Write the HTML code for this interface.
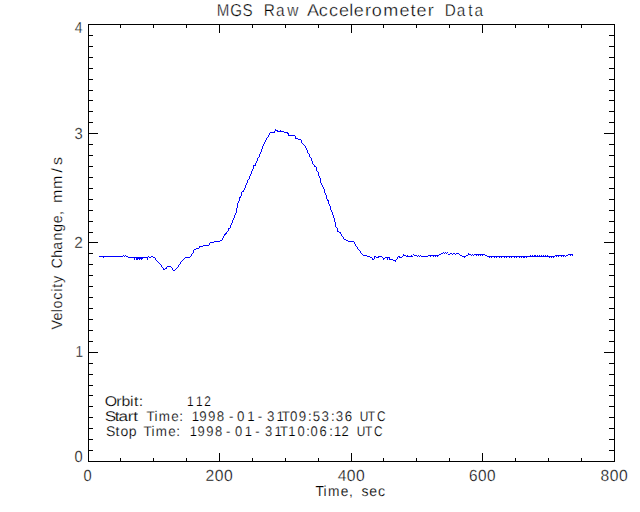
<!DOCTYPE html>
<html><head><meta charset="utf-8"><title>MGS Raw Accelerometer Data</title>
<style>html,body{margin:0;padding:0;background:#fff;width:640px;height:512px;overflow:hidden}svg{display:block}</style>
</head><body>
<svg width="640" height="512" viewBox="0 0 640 512" shape-rendering="crispEdges">
<rect width="640" height="512" fill="#fff"/>
<path d="M88 24h527v1h-527zM88 461h527v1h-527zM88 24h1v438h-1zM614 24h1v438h-1zM120 458h1v3h-1zM120 25h1v3h-1zM153 458h1v3h-1zM153 25h1v3h-1zM186 458h1v3h-1zM186 25h1v3h-1zM219 453h1v8h-1zM219 25h1v8h-1zM252 458h1v3h-1zM252 25h1v3h-1zM285 458h1v3h-1zM285 25h1v3h-1zM318 458h1v3h-1zM318 25h1v3h-1zM351 453h1v8h-1zM351 25h1v8h-1zM383 458h1v3h-1zM383 25h1v3h-1zM416 458h1v3h-1zM416 25h1v3h-1zM449 458h1v3h-1zM449 25h1v3h-1zM482 453h1v8h-1zM482 25h1v8h-1zM515 458h1v3h-1zM515 25h1v3h-1zM548 458h1v3h-1zM548 25h1v3h-1zM581 458h1v3h-1zM581 25h1v3h-1zM89 450h4v1h-4zM609 450h5v1h-5zM89 439h4v1h-4zM609 439h5v1h-5zM89 428h4v1h-4zM609 428h5v1h-5zM89 417h4v1h-4zM609 417h5v1h-5zM89 406h4v1h-4zM609 406h5v1h-5zM89 395h4v1h-4zM609 395h5v1h-5zM89 385h4v1h-4zM609 385h5v1h-5zM89 374h4v1h-4zM609 374h5v1h-5zM89 363h4v1h-4zM609 363h5v1h-5zM89 352h9v1h-9zM604 352h10v1h-10zM89 341h4v1h-4zM609 341h5v1h-5zM89 330h4v1h-4zM609 330h5v1h-5zM89 319h4v1h-4zM609 319h5v1h-5zM89 308h4v1h-4zM609 308h5v1h-5zM89 297h4v1h-4zM609 297h5v1h-5zM89 286h4v1h-4zM609 286h5v1h-5zM89 275h4v1h-4zM609 275h5v1h-5zM89 264h4v1h-4zM609 264h5v1h-5zM89 253h4v1h-4zM609 253h5v1h-5zM89 242h9v1h-9zM604 242h10v1h-10zM89 232h4v1h-4zM609 232h5v1h-5zM89 221h4v1h-4zM609 221h5v1h-5zM89 210h4v1h-4zM609 210h5v1h-5zM89 199h4v1h-4zM609 199h5v1h-5zM89 188h4v1h-4zM609 188h5v1h-5zM89 177h4v1h-4zM609 177h5v1h-5zM89 166h4v1h-4zM609 166h5v1h-5zM89 155h4v1h-4zM609 155h5v1h-5zM89 144h4v1h-4zM609 144h5v1h-5zM89 133h9v1h-9zM604 133h10v1h-10zM89 122h4v1h-4zM609 122h5v1h-5zM89 111h4v1h-4zM609 111h5v1h-5zM89 100h4v1h-4zM609 100h5v1h-5zM89 90h4v1h-4zM609 90h5v1h-5zM89 79h4v1h-4zM609 79h5v1h-5zM89 68h4v1h-4zM609 68h5v1h-5zM89 57h4v1h-4zM609 57h5v1h-5zM89 46h4v1h-4zM609 46h5v1h-5zM89 35h4v1h-4zM609 35h5v1h-5z" fill="#000"/>
<path d="M99 256h4v1h-4zM103 256h1v2h-1zM104 256h19v1h-19zM123 255h1v1h-1zM124 256h1v1h-1zM125 255h1v1h-1zM126 256h2v1h-2zM128 257h6v1h-6zM134 257h1v3h-1zM135 257h1v1h-1zM136 257h2v3h-2zM138 257h1v2h-1zM139 257h1v3h-1zM140 257h1v2h-1zM141 257h1v3h-1zM142 257h1v2h-1zM143 257h4v1h-4zM147 257h1v3h-1zM148 256h1v1h-1zM149 257h2v1h-2zM151 256h2v1h-2zM153 257h2v1h-2zM155 258h1v2h-1zM156 260h1v1h-1zM157 261h1v1h-1zM158 262h1v1h-1zM159 263h1v1h-1zM160 264h1v1h-1zM161 265h1v2h-1zM162 267h1v1h-1zM163 268h1v2h-1zM164 269h1v1h-1zM165 268h1v1h-1zM166 267h1v2h-1zM167 266h4v1h-4zM171 267h1v1h-1zM172 268h1v2h-1zM173 270h2v1h-2zM175 269h1v1h-1zM176 268h1v1h-1zM177 267h1v1h-1zM178 265h1v2h-1zM179 264h1v1h-1zM180 262h1v2h-1zM181 261h1v1h-1zM182 260h1v1h-1zM183 259h1v1h-1zM184 258h1v1h-1zM185 257h5v1h-5zM190 256h1v1h-1zM191 254h1v2h-1zM192 253h1v1h-1zM193 250h1v3h-1zM194 249h2v1h-2zM196 248h3v1h-3zM199 246h1v2h-1zM200 246h3v1h-3zM203 245h6v1h-6zM209 243h1v2h-1zM210 242h4v1h-4zM214 241h6v1h-6zM220 240h2v1h-2zM222 238h1v2h-1zM223 236h1v2h-1zM224 234h1v2h-1zM225 233h1v2h-1zM226 232h1v2h-1zM227 231h1v1h-1zM228 228h1v3h-1zM229 228h1v1h-1zM230 225h1v3h-1zM231 223h1v2h-1zM232 220h1v3h-1zM233 218h1v2h-1zM234 215h1v3h-1zM235 213h1v2h-1zM236 208h1v5h-1zM237 203h1v5h-1zM238 201h1v2h-1zM239 197h1v4h-1zM240 196h1v2h-1zM241 192h1v4h-1zM242 191h1v1h-1zM243 190h1v2h-1zM244 188h1v2h-1zM245 185h1v3h-1zM246 183h1v2h-1zM247 180h1v3h-1zM248 179h1v1h-1zM249 176h1v3h-1zM250 174h1v2h-1zM251 171h1v3h-1zM252 169h1v2h-1zM253 165h1v4h-1zM254 165h1v1h-1zM255 163h1v3h-1zM256 161h1v2h-1zM257 158h1v3h-1zM258 157h1v1h-1zM259 154h1v3h-1zM260 152h1v2h-1zM261 149h1v3h-1zM262 146h1v3h-1zM263 144h1v2h-1zM264 142h1v2h-1zM265 140h1v2h-1zM266 138h1v2h-1zM267 137h1v1h-1zM268 135h1v2h-1zM269 133h1v2h-1zM270 132h4v1h-4zM274 131h1v2h-1zM275 129h1v2h-1zM276 130h1v1h-1zM277 130h1v2h-1zM278 131h2v1h-2zM280 130h1v2h-1zM281 131h3v1h-3zM284 132h3v1h-3zM287 132h1v2h-1zM288 133h1v3h-1zM289 135h6v1h-6zM295 136h1v3h-1zM296 138h2v1h-2zM298 139h3v1h-3zM301 140h1v3h-1zM302 143h1v1h-1zM303 144h1v1h-1zM304 145h1v1h-1zM305 146h1v2h-1zM306 148h1v2h-1zM307 150h1v3h-1zM308 153h1v1h-1zM309 154h1v3h-1zM310 157h1v1h-1zM311 158h1v3h-1zM312 161h1v3h-1zM313 164h1v1h-1zM314 165h1v2h-1zM315 166h1v1h-1zM316 167h1v4h-1zM317 171h1v1h-1zM318 172h1v4h-1zM319 176h1v2h-1zM320 178h1v5h-1zM321 183h1v2h-1zM322 185h1v2h-1zM323 187h1v2h-1zM324 189h1v4h-1zM325 193h1v2h-1zM326 195h1v4h-1zM327 199h1v2h-1zM328 200h1v4h-1zM329 204h1v2h-1zM330 206h1v4h-1zM331 210h1v2h-1zM332 212h1v3h-1zM333 215h1v3h-1zM334 218h1v4h-1zM335 222h1v5h-1zM336 227h1v1h-1zM337 228h1v4h-1zM338 231h1v1h-1zM339 232h1v1h-1zM340 232h1v2h-1zM341 234h1v2h-1zM342 236h1v1h-1zM343 237h1v2h-1zM344 239h2v1h-2zM346 240h2v1h-2zM348 241h6v1h-6zM354 242h1v2h-1zM355 244h1v2h-1zM356 246h1v1h-1zM357 247h1v2h-1zM358 249h1v1h-1zM359 250h1v1h-1zM360 251h1v2h-1zM361 253h1v1h-1zM362 254h1v1h-1zM363 255h4v1h-4zM367 256h3v1h-3zM370 257h2v1h-2zM372 258h1v2h-1zM373 259h1v1h-1zM374 256h1v3h-1zM375 256h1v1h-1zM376 257h2v1h-2zM378 256h1v2h-1zM379 256h3v1h-3zM382 257h1v1h-1zM383 258h1v2h-1zM384 258h1v1h-1zM385 257h2v1h-2zM387 257h1v3h-1zM388 257h1v1h-1zM389 257h1v3h-1zM390 259h3v1h-3zM393 260h2v1h-2zM395 260h1v2h-1zM396 259h1v1h-1zM397 257h1v2h-1zM398 256h1v1h-1zM399 256h1v2h-1zM400 257h2v1h-2zM402 256h1v1h-1zM403 254h1v2h-1zM404 255h2v1h-2zM406 256h1v1h-1zM407 255h1v2h-1zM408 256h3v1h-3zM411 255h1v2h-1zM412 256h1v1h-1zM413 254h1v1h-1zM414 255h3v1h-3zM417 256h1v1h-1zM418 255h1v1h-1zM419 256h1v1h-1zM420 255h1v1h-1zM421 256h7v1h-7zM428 255h2v1h-2zM430 255h1v2h-1zM431 255h2v1h-2zM433 255h1v2h-1zM434 255h1v1h-1zM435 255h1v2h-1zM436 255h1v1h-1zM437 255h1v2h-1zM438 255h1v1h-1zM439 254h2v1h-2zM441 253h2v1h-2zM443 252h1v1h-1zM444 253h1v1h-1zM445 252h1v1h-1zM446 253h1v1h-1zM447 252h1v1h-1zM448 254h2v1h-2zM450 253h2v1h-2zM452 254h1v1h-1zM453 253h2v1h-2zM455 254h1v1h-1zM456 253h3v1h-3zM459 254h1v1h-1zM460 255h2v1h-2zM462 256h2v1h-2zM464 256h1v2h-1zM465 256h1v1h-1zM466 255h2v1h-2zM468 253h1v2h-1zM469 254h2v1h-2zM471 255h1v1h-1zM472 254h1v1h-1zM473 255h1v1h-1zM474 254h2v1h-2zM476 254h1v2h-1zM477 254h1v1h-1zM478 254h1v2h-1zM479 254h1v1h-1zM480 254h1v2h-1zM481 254h1v1h-1zM482 254h1v2h-1zM483 254h2v1h-2zM485 255h2v1h-2zM487 256h2v1h-2zM489 256h1v2h-1zM490 256h1v1h-1zM491 256h1v2h-1zM492 256h2v1h-2zM494 256h1v2h-1zM495 256h1v1h-1zM496 256h1v2h-1zM497 256h2v1h-2zM499 256h1v2h-1zM500 256h1v1h-1zM501 256h1v2h-1zM502 256h2v1h-2zM504 256h1v2h-1zM505 256h1v1h-1zM506 256h1v2h-1zM507 256h2v1h-2zM509 256h1v2h-1zM510 256h1v1h-1zM511 256h1v2h-1zM512 256h2v1h-2zM514 256h1v2h-1zM515 256h1v1h-1zM516 256h1v2h-1zM517 256h2v1h-2zM519 256h1v2h-1zM520 256h1v1h-1zM521 256h1v2h-1zM522 256h1v1h-1zM523 256h2v2h-2zM525 256h1v1h-1zM526 256h1v2h-1zM527 256h3v1h-3zM530 255h1v2h-1zM531 256h1v1h-1zM532 255h1v2h-1zM533 256h1v1h-1zM534 255h2v2h-2zM536 256h1v1h-1zM537 255h1v2h-1zM538 256h1v1h-1zM539 255h1v2h-1zM540 256h1v1h-1zM541 255h1v2h-1zM542 256h1v1h-1zM543 255h1v2h-1zM544 256h1v1h-1zM545 255h1v2h-1zM546 256h1v1h-1zM547 255h1v2h-1zM548 256h1v1h-1zM549 256h1v2h-1zM550 256h1v1h-1zM551 256h1v2h-1zM552 256h1v1h-1zM553 256h1v2h-1zM554 256h1v1h-1zM555 255h1v1h-1zM556 255h1v2h-1zM557 255h1v1h-1zM558 255h1v2h-1zM559 255h2v1h-2zM561 255h1v2h-1zM562 255h1v1h-1zM563 255h1v2h-1zM564 255h1v1h-1zM565 256h1v1h-1zM566 255h2v1h-2zM568 254h2v1h-2zM570 254h1v2h-1zM571 254h1v1h-1zM572 254h1v2h-1z" fill="#0000ff"/>
<g font-family="'Liberation Sans', 'DejaVu Sans', sans-serif" fill="#000" text-rendering="geometricPrecision" stroke="#fff" stroke-width="0.25">
<text x="247.57 262.87 276.94" y="16" font-size="17.25" transform="scale(0.8756,1)" stroke-width="0.33">MGS</text>
<text x="295.36 309.12 321.73" y="16" font-size="17.25" transform="scale(0.8929,1)" stroke-width="0.33">Raw</text>
<text x="293.95 305.09 314.92 324.43 334.39 338.64 349.40 355.83 366.83 382.35 392.86 398.74 409.51" y="16" font-size="17.25" transform="scale(1.0446,1)" stroke-width="0.33">Accelerometer</text>
<text x="501.52 515.13 528.14 535.11" y="16" font-size="17.25" transform="scale(0.8867,1)" stroke-width="0.33">Data</text>
<text x="91.16" y="481" font-size="16" transform="scale(0.9152,1)" stroke-width="0.3">0</text>
<text x="209.97 219.44 228.90" y="481" font-size="16" transform="scale(0.9782,1)" stroke-width="0.3">200</text>
<text x="345.21 354.38 363.85" y="481" font-size="16" transform="scale(0.9782,1)" stroke-width="0.3">400</text>
<text x="488.86 498.12 507.55" y="481" font-size="16" transform="scale(0.9596,1)" stroke-width="0.3">600</text>
<text x="613.79 623.25 632.72" y="481" font-size="16" transform="scale(0.9782,1)" stroke-width="0.3">800</text>
<text x="81.32" y="462" font-size="16" transform="scale(0.9152,1)" stroke-width="0.3">0</text>
<text x="88.80" y="357" font-size="16" transform="scale(0.8500,1)" stroke-width="0.3">1</text>
<text x="77.29" y="248" font-size="16" transform="scale(0.9603,1)" stroke-width="0.3">2</text>
<text x="80.67" y="139" font-size="16" transform="scale(0.9228,1)" stroke-width="0.3">3</text>
<text x="86.02" y="33" font-size="16" transform="scale(0.8682,1)" stroke-width="0.3">4</text>
<text x="332.56 341.13 345.80 359.32 368.03" y="496" font-size="14.5" transform="scale(0.9486,1)" stroke-width="0.17">Time,</text>
<text x="371.82 379.78 388.72" y="496" font-size="14.5" transform="scale(0.9725,1)" stroke-width="0.17">sec</text>
<text x="-345.05 -335.61 -326.92 -322.97 -313.84 -305.42 -301.13 -296.29" y="0" font-size="15" transform="translate(62,0) rotate(-90) scale(0.9553,1)" stroke-width="0.22">Velocity</text>
<text x="-286.99 -275.89 -267.11 -257.26 -248.02 -238.87 -229.94" y="0" font-size="15" transform="translate(62,0) rotate(-90) scale(0.9346,1)" stroke-width="0.22">Change,</text>
<text x="-189.17 -176.11 -160.62 -153.73" y="0" font-size="15" transform="translate(62,0) rotate(-90) scale(1.0735,1)" stroke-width="0.22">mm/s</text>
<text x="92.46 102.62 107.09 114.65 118.10 122.43" y="406" font-size="14" transform="scale(1.1341,1)" stroke-width="0.18">Orbit:</text>
<text x="220.10 230.57 240.17" y="406" font-size="14" transform="scale(0.8500,1)" stroke-width="0.18">112</text>
<text x="85.49 93.67 96.66 104.37 108.85" y="421" font-size="14" transform="scale(1.2252,1)" stroke-width="0.18">Start</text>
<text x="152.79 161.04 165.50 178.51 186.89" y="421" font-size="14" transform="scale(0.9588,1)" stroke-width="0.18">Time:</text>
<text x="201.95 209.99 219.21 228.43 241.21 249.81 260.58 271.61 281.20 291.29 296.93 305.55 314.75 324.62 329.59 338.83 348.64 353.74 363.24" y="421" font-size="14" transform="scale(0.9491,1)" stroke-width="0.18">1998-01-31T09:53:36</text>
<text x="423.12 432.73 443.44" y="421" font-size="14" transform="scale(0.8500,1)" stroke-width="0.18">UTC</text>
<text x="105.66 115.31 120.18 128.53" y="436" font-size="14" transform="scale(1.0022,1)" stroke-width="0.18">Stop</text>
<text x="149.66 157.91 162.37 175.38 183.76" y="436" font-size="14" transform="scale(0.9588,1)" stroke-width="0.18">Time:</text>
<text x="204.84 213.07 222.52 231.96 243.96 253.55 264.20 275.67 286.03 296.37 302.15 311.16 321.09 330.46 335.26 344.98 355.34 360.60 368.51" y="436" font-size="14" transform="scale(0.9264,1)" stroke-width="0.18">1998-01-31T10:06:12</text>
<text x="419.83 429.43 440.15" y="436" font-size="14" transform="scale(0.8500,1)" stroke-width="0.18">UTC</text>
</g>
</svg>
</body></html>
